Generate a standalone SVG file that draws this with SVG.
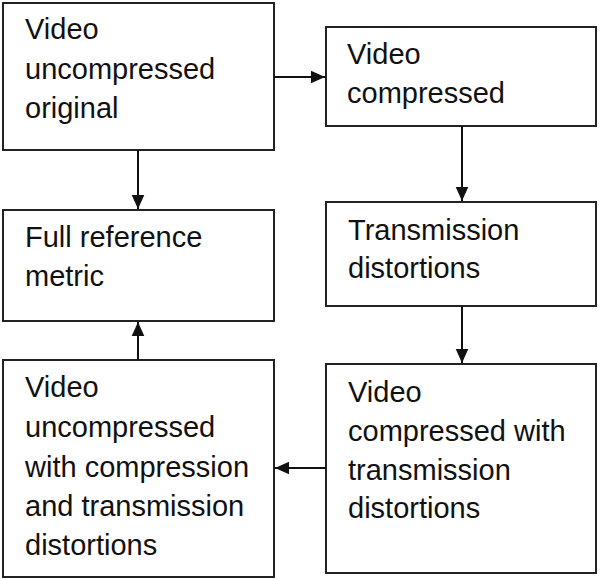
<svg xmlns="http://www.w3.org/2000/svg" width="600" height="580" viewBox="0 0 600 580">
<defs>
<marker id="ah" viewBox="0 0 10 10" refX="10" refY="5" markerWidth="14" markerHeight="14" markerUnits="userSpaceOnUse" orient="auto">
<path d="M0,0.5 L10,5 L0,9.5 Z" fill="#111"/>
</marker>
<style>
.box{fill:#fff;stroke:#222;stroke-width:2}
.t{font-family:"Liberation Sans",Arial,sans-serif;font-size:29px;fill:#111}
.c{stroke:#111;stroke-width:2;fill:none;marker-end:url(#ah)}
</style>
</defs>
<rect width="600" height="580" fill="#fff"/>
<g id="n1"><rect class="box" x="3" y="3" width="271" height="147"/>
<text class="t" x="25" y="39">Video</text><text class="t" x="25" y="79">uncompressed</text><text class="t" x="25" y="118">original</text></g>
<g id="n2"><rect class="box" x="326" y="27" width="270" height="99"/>
<text class="t" x="347" y="64">Video</text><text class="t" x="347" y="103">compressed</text></g>
<g id="n3"><rect class="box" x="3" y="210" width="271" height="111"/>
<text class="t" x="25" y="247">Full reference</text><text class="t" x="25" y="286">metric</text></g>
<g id="n4"><rect class="box" x="326" y="202" width="270" height="104"/>
<text class="t" x="348" y="240">Transmission</text><text class="t" x="348" y="278">distortions</text></g>
<g id="n5"><rect class="box" x="3" y="360" width="271" height="217"/>
<text class="t" x="25" y="397">Video</text><text class="t" x="25" y="437">uncompressed</text><text class="t" x="25" y="477">with compression</text><text class="t" x="25" y="516">and transmission</text><text class="t" x="25" y="555">distortions</text></g>
<g id="n6"><rect class="box" x="326" y="364" width="270" height="209"/>
<text class="t" x="348" y="402">Video</text><text class="t" x="348" y="441">compressed with</text><text class="t" x="348" y="480">transmission</text><text class="t" x="348" y="518">distortions</text></g>
<g id="connectors">
<line class="c" x1="274" y1="77" x2="325" y2="77"/>
<line class="c" x1="138" y1="150" x2="138" y2="209"/>
<line class="c" x1="462" y1="126" x2="462" y2="201"/>
<line class="c" x1="462" y1="306" x2="462" y2="363"/>
<line class="c" x1="326" y1="468" x2="275" y2="468"/>
<line class="c" x1="138" y1="360" x2="138" y2="322"/>
</g>
</svg>
